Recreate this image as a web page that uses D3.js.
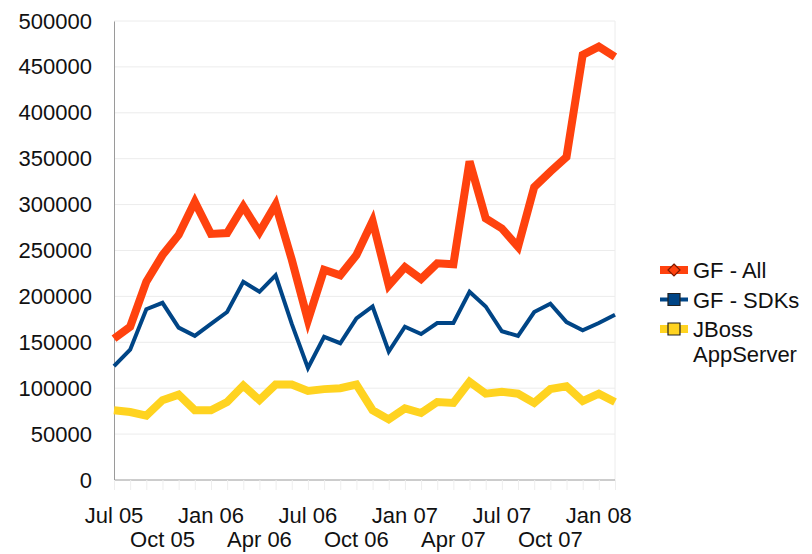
<!DOCTYPE html>
<html>
<head>
<meta charset="utf-8">
<script src="https://cdn.jsdelivr.net/npm/d3@7"></script>
<style>
  body { margin: 0; background: #fff; }
  text { font-family: "Liberation Sans", Arial, sans-serif; fill: #111; }
</style>
</head>
<body>
<div id="chart"></div>
<script>
// monthly downloads, Jul 05 .. Feb 08
const months = ['Jul 05','Aug 05','Sep 05','Oct 05','Nov 05','Dec 05',
  'Jan 06','Feb 06','Mar 06','Apr 06','May 06','Jun 06',
  'Jul 06','Aug 06','Sep 06','Oct 06','Nov 06','Dec 06',
  'Jan 07','Feb 07','Mar 07','Apr 07','May 07','Jun 07',
  'Jul 07','Aug 07','Sep 07','Oct 07','Nov 07','Dec 07',
  'Jan 08','Feb 08']

const gfAll = [154000, 167000, 216000, 245000, 267000, 303000, 268000, 269000,
  298000, 270000, 300000, 240000, 174000, 229000, 223000, 245000, 282000, 212000,
  232000, 219000, 236000, 235000, 347000, 285000, 274000, 254000, 319000, 336000,
  352000, 463000, 472000, 461000]

const gfSdks = [124000, 142000, 186000, 193000, 166000, 157000, 170000, 183000,
  216000, 205000, 223000, 170000, 122000, 156000, 149000, 176000, 189000, 140000,
  167000, 159000, 171000, 171000, 205000, 189000, 162000, 157000, 183000, 192000,
  172000, 163000, 171000, 180000]

const jboss = [76000, 74000, 70000, 87000, 93000, 76000, 76000, 85000,
  103000, 87000, 104000, 104000, 97000, 99000, 100000, 104000, 76000, 66000,
  78000, 73000, 85000, 84000, 107000, 94000, 96000, 94000, 84000, 99000,
  102000, 86000, 94000, 85000]

const yTicks = [0, 50000, 100000, 150000, 200000, 250000, 300000, 350000, 400000, 450000, 500000]
const xLabels = ['Jul 05','Oct 05','Jan 06','Apr 06','Jul 06','Oct 06','Jan 07','Apr 07','Jul 07','Oct 07','Jan 08']

const series = [
  { name: ['GF - All'], values: gfAll, color: '#ff420e', width: 8, marker: 'diamond' },
  { name: ['GF - SDKs'], values: gfSdks, color: '#004586', width: 4, marker: 'square' },
  { name: ['JBoss', 'AppServer'], values: jboss, color: '#ffd320', width: 8, marker: 'square' }
]

const svg = d3.select('#chart')
  .append('svg')
    .attr('width', 812)
    .attr('height', 554)

const x = d3.scalePoint().domain(months).range([114, 615])
const y = d3.scaleLinear().domain([0, 500000]).range([480, 21])

// faint grid + plot frame
svg.append('g')
  .selectAll('line')
  .data(yTicks.slice(1))
  .enter().append('line')
    .attr('x1', 114).attr('x2', 615)
    .attr('y1', d => y(d)).attr('y2', d => y(d))
    .attr('stroke', '#ececec')
svg.append('line')
  .attr('x1', 615).attr('x2', 615).attr('y1', y(500000)).attr('y2', y(0))
  .attr('stroke', '#ececec')

// y axis
const yAxis = svg.append('g')
  .attr('transform', 'translate(114,0)')
  .call(d3.axisLeft(y).tickValues(yTicks).tickSize(0).tickPadding(22).tickFormat(d3.format('d')))
yAxis.select('.domain').attr('stroke', '#9a9a9a')
yAxis.selectAll('text').attr('font-size', 22).attr('fill', '#111')
  .style('font-family', '"Liberation Sans", Arial, sans-serif')

// x axis: ticks every month, labels every third, staggered
const xAxis = svg.append('g')
  .attr('transform', 'translate(0,480)')
  .call(d3.axisBottom(x).tickSize(10).tickFormat(''))
xAxis.select('.domain').attr('stroke', '#9a9a9a').attr('d', 'M114,0H615')
xAxis.selectAll('.tick line').attr('stroke', '#eeeeee')

svg.append('g')
  .selectAll('text')
  .data(xLabels)
  .enter().append('text')
    .attr('x', d => x(d))
    .attr('y', (d, i) => i % 2 === 0 ? 523 : 547)
    .attr('text-anchor', 'middle')
    .attr('font-size', 22)
    .text(d => d)

// lines
const line = d3.line()
  .x((d, i) => x(months[i]))
  .y(d => y(d))

svg.append('g')
  .selectAll('path')
  .data(series)
  .enter().append('path')
    .attr('d', d => line(d.values))
    .attr('fill', 'none')
    .attr('stroke', d => d.color)
    .attr('stroke-width', d => d.width)
    .attr('stroke-linejoin', 'miter')

// legend
const legend = svg.append('g')
  .selectAll('g')
  .data(series)
  .enter().append('g')
    .attr('transform', (d, i) => `translate(660,${270 + i * 29.5})`)

legend.append('line')
  .attr('x1', 0).attr('x2', 28)
  .attr('stroke', d => d.color)
  .attr('stroke-width', d => d.width)
legend.append('path')
  .attr('transform', 'translate(14,0)')
  .attr('d', d => d.marker === 'diamond' ? 'M0,-6L6,0L0,6L-6,0Z' : 'M-6,-6H6V6H-6Z')
  .attr('fill', d => d.color)
  .attr('stroke', d => d.marker === 'diamond' ? '#7a1a00' : '#222')
  .attr('stroke-width', 1.2)
legend.append('text')
  .attr('x', 33)
  .attr('y', 8)
  .attr('font-size', 22)
  .selectAll('tspan')
  .data(d => d.name)
  .enter().append('tspan')
    .attr('x', 33)
    .attr('dy', (d, i) => i === 0 ? 0 : 25)
    .text(d => d)
</script>
</body>
</html>
